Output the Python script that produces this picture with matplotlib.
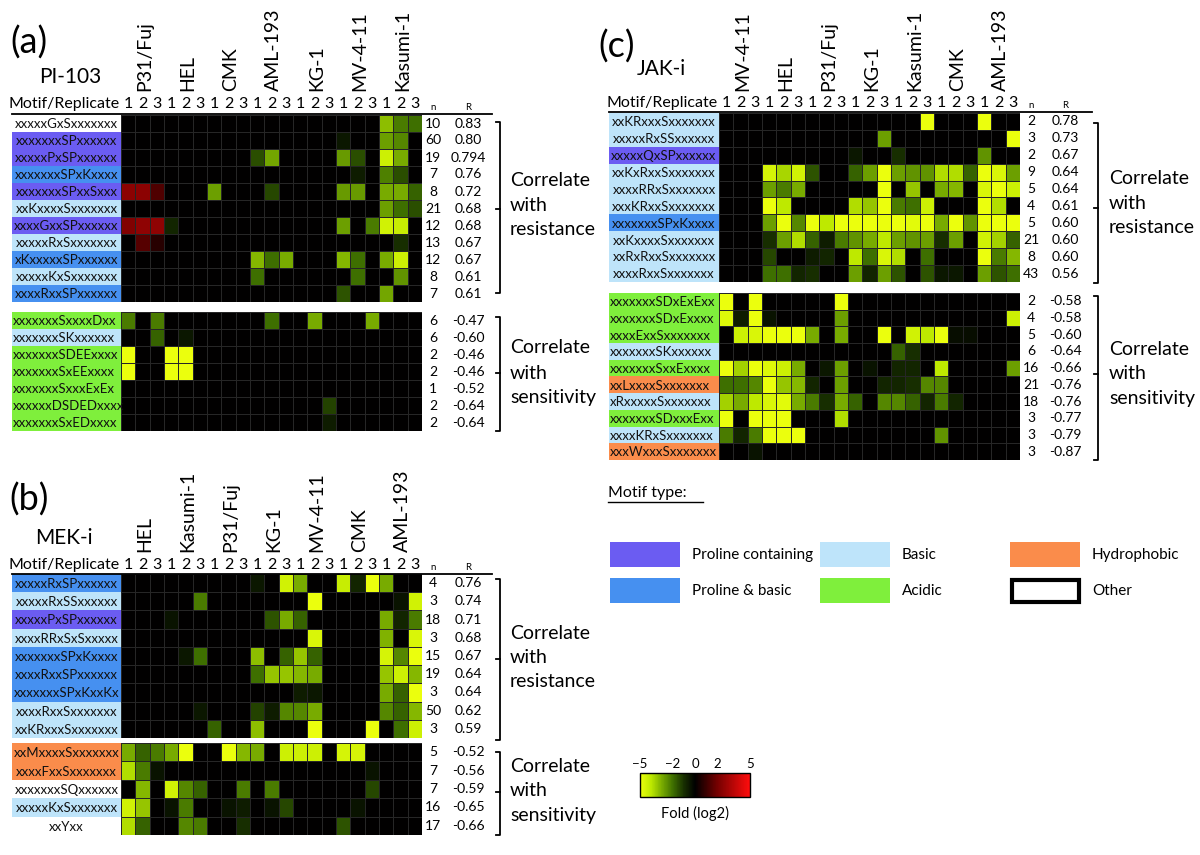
import numpy as np
import matplotlib
matplotlib.use('Agg')
import matplotlib.pyplot as plt
from matplotlib.colors import LinearSegmentedColormap, ListedColormap, Normalize
from matplotlib.cm import ScalarMappable
from matplotlib.patches import Rectangle

plt.rcParams['font.family'] = ['Lato', 'DejaVu Sans']

# ------------------------------------------------------------------ data
REPLICATES = ['1', '2', '3']

# ---- panel (a) PI-103
A_LINES = ['P31/Fuj', 'HEL', 'CMK', 'AML-193', 'KG-1', 'MV-4-11', 'Kasumi-1']
A_RES_MOTIFS = ['xxxxxGxSxxxxxxx', 'xxxxxxxSPxxxxxx', 'xxxxxPxSPxxxxxx', 'xxxxxxxSPxKxxxx',
                'xxxxxxxSPxxSxxx', 'xxKxxxxSxxxxxxx', 'xxxxGxxSPxxxxxx', 'xxxxxRxSxxxxxxx',
                'xKxxxxxSPxxxxxx', 'xxxxxKxSxxxxxxx', 'xxxxRxxSPxxxxxx']
A_RES_TYPES = ['oth', 'pro', 'pro', 'probas', 'pro', 'bas', 'pro', 'bas', 'probas', 'bas', 'probas']
A_RES_N = [10, 60, 19, 7, 8, 21, 12, 13, 12, 8, 7]
A_RES_R = ['0.83', '0.80', '0.794', '0.76', '0.72', '0.68', '0.68', '0.67', '0.67', '0.61', '0.61']
A_RES_VALUES = [
    {18: -3.3, 19: -2.2, 20: -2.0},
    {15: -0.5, 18: -2.8, 19: -2.4},
    {9: -1.5, 10: -2.9, 15: -2.7, 16: -1.5, 18: -4.3, 19: -3.0},
    {16: -0.6, 18: -2.3, 19: -1.5},
    {0: 2.5, 1: 2.5, 2: 1.4, 6: -2.8, 10: -1.4, 15: -2.7, 16: -2.7, 18: -3.0, 19: -3.0, 20: -1.8},
    {18: -2.8, 19: -2.0, 20: -1.5},
    {0: 2.3, 1: 2.6, 2: 2.6, 3: -0.8, 15: -2.8, 17: -2.2, 18: -4.4, 19: -4.2},
    {1: 1.5, 2: 0.7, 19: -1.0},
    {9: -3.2, 10: -2.0, 11: -3.0, 15: -3.2, 16: -2.0, 18: -3.0, 19: -4.3},
    {9: -2.0, 16: -2.0, 19: -2.6},
    {15: -1.6, 18: -2.9},
]
A_SEN_MOTIFS = ['xxxxxxxSxxxxDxx', 'xxxxxxxSKxxxxxx', 'xxxxxxxSDEExxxx', 'xxxxxxxSxEExxxx',
                'xxxxxxxSxxxExEx', 'xxxxxxDSDEDxxxx', 'xxxxxxxSxEDxxxx']
A_SEN_TYPES = ['aci', 'bas', 'aci', 'aci', 'aci', 'aci', 'aci']
A_SEN_N = [6, 6, 2, 2, 1, 2, 2]
A_SEN_R = ['-0.47', '-0.60', '-0.46', '-0.46', '-0.52', '-0.64', '-0.64']
A_SEN_VALUES = [
    {0: -2.2, 2: -2.2, 10: -2.0, 13: -3.0, 17: -3.0},
    {2: -1.8, 4: -0.5},
    {0: -5.0, 3: -5.0, 4: -5.0},
    {0: -5.0, 3: -5.0, 4: -5.0},
    {},
    {14: -1.3},
    {14: -0.6},
]

# ---- panel (b) MEK-i
B_LINES = ['HEL', 'Kasumi-1', 'P31/Fuj', 'KG-1', 'MV-4-11', 'CMK', 'AML-193']
B_RES_MOTIFS = ['xxxxxRxSPxxxxxx', 'xxxxxRxSSxxxxxx', 'xxxxxPxSPxxxxxx', 'xxxxRRxSxSxxxxx',
                'xxxxxxxSPxKxxxx', 'xxxxRxxSPxxxxxx', 'xxxxxxxSPxKxxKx', 'xxxxRxxSxxxxxxx',
                'xxKRxxxSxxxxxxx']
B_RES_TYPES = ['probas', 'bas', 'pro', 'bas', 'probas', 'probas', 'probas', 'bas', 'bas']
B_RES_N = [4, 3, 18, 3, 15, 19, 3, 50, 3]
B_RES_R = ['0.76', '0.74', '0.71', '0.68', '0.67', '0.64', '0.64', '0.62', '0.59']
B_RES_VALUES = [
    {9: -0.5, 11: -4.4, 12: -3.0, 15: -4.2, 16: -0.8, 17: -5.0, 18: -3.0},
    {5: -2.2, 13: -5.0, 19: -0.4, 20: -4.4},
    {3: -0.4, 10: -1.6, 11: -3.0, 12: -1.8, 18: -3.0, 19: -0.8, 20: -2.2},
    {13: -4.6, 18: -3.1, 20: -4.6},
    {4: -0.5, 5: -2.0, 9: -3.3, 11: -1.8, 12: -3.4, 13: -1.8, 18: -4.5, 19: -2.4, 20: -5.0},
    {9: -2.0, 10: -3.4, 11: -3.4, 12: -3.2, 13: -3.0, 18: -3.4, 19: -4.3, 20: -3.2},
    {12: -0.6, 13: -0.5, 18: -3.0, 19: -1.8, 20: -5.0},
    {5: -0.5, 9: -1.3, 10: -0.6, 11: -2.4, 12: -2.4, 13: -3.0, 18: -2.4, 19: -1.8, 20: -3.2},
    {6: -1.8, 9: -3.3, 13: -5.0, 17: -5.0, 19: -2.0, 20: -4.3},
]
B_SEN_MOTIFS = ['xxMxxxxSxxxxxxx', 'xxxxFxxSxxxxxxx', 'xxxxxxxSQxxxxxx', 'xxxxxKxSxxxxxxx', 'xxYxx']
B_SEN_TYPES = ['hyd', 'hyd', 'oth', 'bas', 'oth']
B_SEN_N = [5, 7, 7, 16, 17]
B_SEN_R = ['-0.52', '-0.56', '-0.59', '-0.65', '-0.66']
B_SEN_VALUES = [
    {0: -3.0, 1: -1.8, 2: -2.2, 3: -3.0, 4: -5.0, 7: -5.0, 8: -3.2, 9: -3.0,
     11: -4.3, 12: -4.3, 13: -4.3, 15: -4.5, 16: -4.5},
    {0: -3.8, 1: -2.2, 2: -0.4, 17: -0.4},
    {1: -3.2, 3: -4.4, 4: -2.4, 5: -1.8, 8: -2.2, 10: -2.2, 17: -1.4},
    {0: -4.4, 1: -3.4, 3: -0.4, 4: -2.2, 7: -0.4, 8: -0.6, 10: -0.4, 11: -1.4, 16: -0.4},
    {0: -3.8, 1: -1.8, 4: -2.4, 5: -2.2, 8: -1.0, 15: -1.6},
]

# ---- panel (c) JAK-i
C_LINES = ['MV-4-11', 'HEL', 'P31/Fuj', 'KG-1', 'Kasumi-1', 'CMK', 'AML-193']
C_RES_MOTIFS = ['xxKRxxxSxxxxxxx', 'xxxxxRxSSxxxxxx', 'xxxxxQxSPxxxxxx', 'xxKxRxxSxxxxxxx',
                'xxxxRRxSxxxxxxx', 'xxxKRxxSxxxxxxx', 'xxxxxxxSPxKxxxx', 'xxKxxxxSxxxxxxx',
                'xxRxRxxSxxxxxxx', 'xxxxRxxSxxxxxxx']
C_RES_TYPES = ['bas', 'bas', 'pro', 'bas', 'bas', 'bas', 'probas', 'bas', 'bas', 'bas']
C_RES_N = [2, 3, 2, 9, 5, 4, 5, 21, 8, 43]
C_RES_R = ['0.78', '0.73', '0.67', '0.64', '0.64', '0.61', '0.60', '0.60', '0.60', '0.56']
C_RES_VALUES = [
    {14: -5.0, 18: -5.0},
    {11: -2.8, 20: -5.0},
    {9: -0.5, 12: -1.0, 18: -2.6},
    {3: -4.5, 4: -3.7, 5: -4.4, 6: -1.6, 9: -1.8, 10: -2.8, 11: -5.0, 12: -2.8, 13: -2.6,
     14: -2.6, 15: -3.8, 16: -3.8, 17: -1.8, 18: -5.0, 19: -4.6, 20: -2.8},
    {3: -2.8, 4: -2.2, 5: -3.0, 11: -5.0, 13: -3.4, 15: -3.0, 16: -3.2, 18: -4.6, 19: -5.0, 20: -4.3},
    {3: -5.0, 4: -4.0, 9: -3.8, 10: -3.4, 11: -5.0, 12: -2.2, 13: -2.0, 14: -4.3, 18: -5.0, 19: -3.8},
    {3: -2.8, 4: -5.0, 5: -2.4, 6: -5.0, 7: -4.0, 8: -5.0, 9: -5.0, 10: -5.0, 11: -5.0, 12: -5.0,
     13: -4.8, 14: -5.0, 15: -3.0, 16: -5.0, 17: -2.6, 18: -5.0, 19: -5.0, 20: -5.0},
    {3: -1.0, 4: -2.8, 5: -3.8, 6: -1.8, 7: -0.6, 8: -2.2, 9: -2.6, 10: -3.0, 11: -4.0, 12: -2.8,
     13: -2.6, 14: -2.8, 15: -1.0, 16: -2.8, 18: -4.4, 19: -3.6, 20: -1.8},
    {3: -1.4, 6: -0.6, 7: -0.8, 9: -4.0, 10: -2.0, 11: -4.6, 12: -3.8, 14: -2.0, 18: -5.0,
     19: -2.2, 20: -3.2},
    {3: -2.0, 4: -2.0, 5: -0.8, 6: -1.0, 9: -2.8, 10: -0.8, 11: -2.8, 12: -1.6, 14: -1.6,
     15: -0.5, 16: -0.5, 18: -2.8, 19: -1.6, 20: -2.0},
]
C_SEN_MOTIFS = ['xxxxxxxSDxExExx', 'xxxxxxxSDxExxxx', 'xxxxExxSxxxxxxx', 'xxxxxxxSKxxxxxx',
                'xxxxxxxSxxExxxx', 'xxLxxxxSxxxxxxx', 'xRxxxxxSxxxxxxx', 'xxxxxxxSDxxxExx',
                'xxxxKRxSxxxxxxx', 'xxxWxxxSxxxxxxx']
C_SEN_TYPES = ['aci', 'aci', 'aci', 'bas', 'aci', 'hyd', 'bas', 'aci', 'bas', 'hyd']
C_SEN_N = [2, 4, 5, 6, 16, 21, 18, 3, 3, 3]
C_SEN_R = ['-0.58', '-0.58', '-0.60', '-0.64', '-0.66', '-0.76', '-0.76', '-0.77', '-0.79', '-0.87']
C_SEN_VALUES = [
    {0: -5.0, 2: -5.0, 8: -5.0},
    {0: -4.7, 1: -0.6, 2: -5.0, 3: -0.4, 8: -2.8, 20: -4.3},
    {1: -4.3, 2: -4.6, 3: -5.0, 4: -5.0, 5: -5.0, 6: -3.0, 8: -3.0, 11: -5.0, 13: -4.4,
     14: -4.0, 15: -5.0, 16: -0.3, 17: -0.3},
    {12: -1.8, 13: -1.0},
    {0: -5.0, 1: -3.6, 2: -5.0, 3: -4.7, 4: -4.3, 5: -3.0, 7: -0.5, 8: -2.8, 10: -0.4,
     12: -0.8, 13: -0.8, 15: -4.0, 20: -2.8},
    {0: -2.0, 1: -2.0, 2: -2.4, 3: -5.0, 4: -3.4, 5: -3.2, 6: -0.8, 8: -2.8, 11: -0.8,
     12: -0.8, 13: -1.0, 14: -2.4, 15: -2.4},
    {0: -3.6, 1: -3.0, 2: -4.0, 3: -4.6, 4: -4.8, 5: -3.0, 6: -2.2, 7: -1.0, 8: -3.0, 9: -1.8,
     11: -2.4, 12: -2.4, 13: -1.8, 14: -0.8, 15: -2.2, 16: -0.8},
    {0: -5.0, 2: -5.0, 3: -5.0, 4: -5.0, 8: -3.8},
    {0: -2.2, 1: -0.8, 2: -2.2, 3: -5.0, 4: -5.0, 5: -5.0, 15: -2.6},
    {2: -0.4},
]

TYPE_KEYS = ['pro', 'probas', 'bas', 'hyd', 'aci', 'oth']
TYPE_COLORS = ['#6B5CF2', '#4690F0', '#BEE4FA', '#FA8C4B', '#7FEF3C', '#FFFFFF']
LEGEND_LABELS = ['Proline containing', 'Proline & basic', 'Basic', 'Acidic', 'Hydrophobic', 'Other']
LEGEND_KEYS = ['pro', 'probas', 'bas', 'aci', 'hyd', 'oth']
CBAR_TICKS = [-5, -2, 0, 2, 5]

# ------------------------------------------------------------------ styling
W, H = 1200, 855
fig = plt.figure(figsize=(W / 100, H / 100), dpi=100)

cmap = LinearSegmentedColormap.from_list('fold', [
    (0.0, (0.92, 1.0, 0.05)),
    (0.1, (0.74, 0.91, 0.0)),
    (0.2, (0.47, 0.67, 0.0)),
    (0.3, (0.24, 0.43, 0.0)),
    (0.4, (0.09, 0.18, 0.0)),
    (0.5, (0.0, 0.0, 0.0)),
    (0.6, (0.22, 0.0, 0.0)),
    (0.7, (0.45, 0.0, 0.0)),
    (1.0, (1.0, 0.05, 0.05)),
])
norm = Normalize(-5, 5)
type_cmap = ListedColormap(TYPE_COLORS)


def ax_px(x0, y0, x1, y1):
    return fig.add_axes([x0 / W, 1 - y1 / H, (x1 - x0) / W, (y1 - y0) / H])


ov = fig.add_axes([0, 0, 1, 1])
ov.set_xlim(0, W)
ov.set_ylim(H, 0)
ov.axis('off')
ov.set_zorder(5)

LABEL_FS = 9.5
NR_FS = 10


def block(lx0, hx0, hx1, y0, y1, motifs, types, values, nvals, rvals, align, nx, rx):
    nrow = len(motifs)
    data = np.zeros((nrow, 21))
    for i, row in enumerate(values):
        for c, v in row.items():
            data[i, c] = v
    ax = ax_px(hx0, y0, hx1, y1)
    ax.pcolormesh(data, cmap=cmap, norm=norm, edgecolors='#262626', linewidth=0.4)
    ax.set_xlim(0, 21)
    ax.set_ylim(nrow, 0)
    ax.axis('off')
    lax = ax_px(lx0, y0, hx0, y1)
    tidx = np.array([[TYPE_KEYS.index(t)] for t in types])
    lax.pcolormesh(tidx, cmap=type_cmap, vmin=-0.5, vmax=len(TYPE_KEYS) - 0.5)
    lax.set_xlim(0, 1)
    lax.set_ylim(nrow, 0)
    lax.axis('off')
    for i, m in enumerate(motifs):
        if align == 'center':
            lax.text(0.5, i + 0.55, m, ha='center', va='center', fontsize=LABEL_FS, color='#111111')
        else:
            lax.text(0.01, i + 0.55, m, ha='left', va='center', fontsize=LABEL_FS, color='#111111')
    rh = (y1 - y0) / nrow
    for i in range(nrow):
        yc = y0 + (i + 0.5) * rh
        ov.text(nx, yc, str(nvals[i]), ha='center', va='center', fontsize=NR_FS)
        ov.text(rx, yc, rvals[i], ha='center', va='center', fontsize=NR_FS)


def bracket(x, top, bottom, mid, tx, tys, word):
    ov.plot([x - 4, x, x, x - 4], [top, top, bottom, bottom], color='black', lw=1.3)
    ov.plot([x - 4, x], [mid, mid], color='black', lw=1.3)
    for t, yy in zip(['Correlate', 'with', word], tys):
        ov.text(tx, yy, t, ha='left', va='center', fontsize=14)


def header(lx0, hx0, hx1, line_y, line_x1, mr_y, nr_y, lab_bottom, lines, nx, rx):
    cw = (hx1 - hx0) / 21
    ov.plot([lx0, line_x1], [line_y, line_y], color='black', lw=1.3)
    ov.text(hx0 - 1, mr_y, 'Motif/Replicate', ha='right', va='center', fontsize=11.5)
    for k in range(21):
        ov.text(hx0 + (k + 0.5) * cw, mr_y, REPLICATES[k % 3], ha='center', va='center', fontsize=11.5)
    for j, name in enumerate(lines):
        ov.text(hx0 + (3 * j + 1.5) * cw + 2, lab_bottom, name, rotation=90, ha='center',
                va='bottom', fontsize=14)
    ov.text(nx, nr_y, 'n', ha='center', va='center', fontsize=7)
    ov.text(rx, nr_y, 'R', ha='center', va='center', fontsize=7)


# ---- panel (a)
ov.text(29, 43, '(a)', ha='center', va='center', fontsize=26)
ov.text(70, 77, 'PI-103', ha='center', va='center', fontsize=15)
header(12, 121, 422, 114, 492, 104, 107, 91, A_LINES, 433, 468)
block(12, 121, 422, 115, 302, A_RES_MOTIFS, A_RES_TYPES, A_RES_VALUES, A_RES_N, A_RES_R,
      'center', 433, 468)
block(12, 121, 422, 312, 431, A_SEN_MOTIFS, A_SEN_TYPES, A_SEN_VALUES, A_SEN_N, A_SEN_R,
      'left', 433, 468)
bracket(500, 122, 293, 209, 510, [181, 205, 229], 'resistance')
bracket(500, 317, 431, 373, 510, [347, 373, 397], 'sensitivity')

# ---- panel (b)
ov.text(29, 500, '(b)', ha='center', va='center', fontsize=26)
ov.text(64, 538, 'MEK-i', ha='center', va='center', fontsize=15)
header(12, 121, 422, 573.5, 492, 565, 567, 552, B_LINES, 433, 468)
block(12, 121, 422, 574, 738, B_RES_MOTIFS, B_RES_TYPES, B_RES_VALUES, B_RES_N, B_RES_R,
      'center', 433, 468)
block(12, 121, 422, 743, 835, B_SEN_MOTIFS, B_SEN_TYPES, B_SEN_VALUES, B_SEN_N, B_SEN_R,
      'center', 433, 468)
bracket(500, 579, 740, 659, 510, [633, 657, 681], 'resistance')
bracket(500, 752, 835, 792, 510, [766, 790, 815], 'sensitivity')

# ---- panel (c)
ov.text(617, 47, '(c)', ha='center', va='center', fontsize=26)
ov.text(661, 69, 'JAK-i', ha='center', va='center', fontsize=15)
header(609, 719, 1020, 112, 1092, 103, 105, 91, C_LINES, 1031, 1065)
block(609, 719, 1020, 113, 282, C_RES_MOTIFS, C_RES_TYPES, C_RES_VALUES, C_RES_N, C_RES_R,
      'center', 1031, 1065)
block(609, 719, 1020, 293, 460, C_SEN_MOTIFS, C_SEN_TYPES, C_SEN_VALUES, C_SEN_N, C_SEN_R,
      'left', 1031, 1065)
bracket(1098, 123, 283, 208, 1109, [179, 203, 227], 'resistance')
bracket(1098, 296, 460, 374, 1109, [349, 373, 398], 'sensitivity')

# ---- legend
ov.text(608, 493, 'Motif type:', ha='left', va='center', fontsize=11.5)
ov.plot([608, 703], [502, 502], color='black', lw=1)
leg_pos = [(610, 542), (610, 578), (820, 542), (820, 578), (1010, 542), (1010, 578)]
for (bx, by), key, lab in zip(leg_pos, LEGEND_KEYS, LEGEND_LABELS):
    col = TYPE_COLORS[TYPE_KEYS.index(key)]
    if key == 'oth':
        ov.add_patch(Rectangle((bx + 1.5, by + 1.5), 67, 22, facecolor='white', edgecolor='black', lw=3))
    else:
        ov.add_patch(Rectangle((bx, by), 70, 25, facecolor=col, edgecolor='none'))
    ov.text(bx + 82, by + 12.5, lab, ha='left', va='center', fontsize=11)

# ---- colorbar
cax = ax_px(640, 773, 750, 797)
cb = fig.colorbar(ScalarMappable(norm=norm, cmap=cmap), cax=cax, orientation='horizontal',
                  ticks=CBAR_TICKS)
cax.xaxis.set_ticks_position('top')
cax.tick_params(length=0, labelsize=9.5, pad=2)
cb.outline.set_linewidth(1)
ov.text(695, 813, 'Fold (log2)', ha='center', va='center', fontsize=10.5)

fig.savefig('out.png', dpi=100)
